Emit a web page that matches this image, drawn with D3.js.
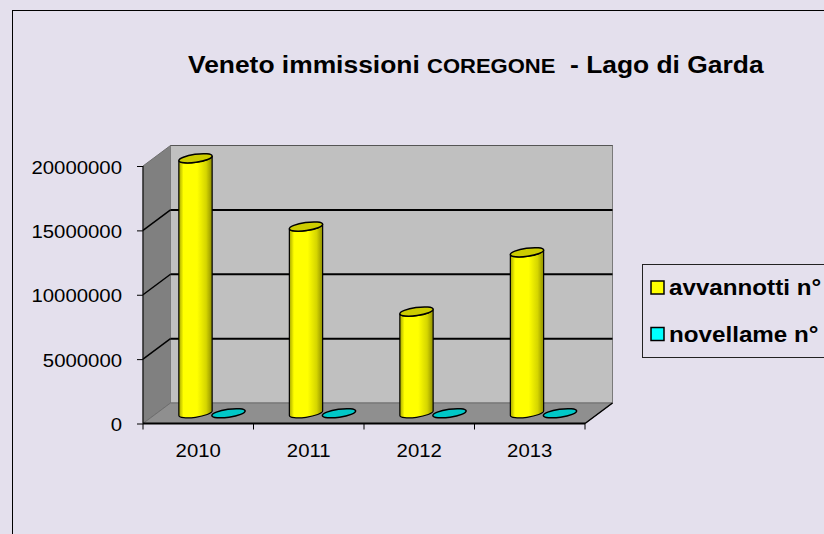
<!DOCTYPE html>
<html>
<head>
<meta charset="utf-8">
<script src="https://cdn.jsdelivr.net/npm/d3@7/dist/d3.min.js"></script>
<style>
  html, body { margin: 0; padding: 0; background: #e4e0ed; }
  svg { display: block; }
  text { font-family: "Liberation Sans", Arial, sans-serif; fill: #000; white-space: pre; }
</style>
</head>
<body>
<svg id="chart" width="824" height="534"></svg>
<script>
// Stocking figures for Lake Garda (Veneto), by year
const years = ["2010", "2011", "2012", "2013"];
const avvannotti = [19800000, 14500000, 7900000, 12500000];
const novellame = [0, 0, 0, 0];
const seriesNames = ["avvannotti n°", "novellame n°"];
const seriesColors = ["#ffff00", "#00ffff"];
const seriesTops = ["#cccc00", "#00c8c8"];
const yTicks = [0, 5000000, 10000000, 15000000, 20000000];
const gridValues = [5000000, 10000000, 15000000];

const svg = d3.select("#chart");
const W = 824, H = 534;
const SX = 1.1; // horizontal stretch of all lettering

// Outer frame
svg.append("rect").attr("x", 0).attr("y", 0).attr("width", W).attr("height", H).attr("fill", "#e4e0ed");
svg.append("rect").attr("x", 12.5).attr("y", 10.5).attr("width", 900).attr("height", 600)
  .attr("fill", "none").attr("stroke", "#000").attr("stroke-width", 1);

// Front plane scales and depth offset of the 3D box
const x0 = 143, x1 = 585;
const x = d3.scaleBand().domain(years).range([x0, x1]).paddingInner(0).paddingOuter(0);
const y = d3.scaleLinear().domain([0, 20000000]).range([423.5, 166]);
const depth = { dx: 27.5, dy: -20.5 };
const mid = { dx: depth.dx / 2, dy: depth.dy / 2 };
const sub = d3.scaleBand().domain([0, 1]).range([-33, 33]);

const y0 = y(0), yTop = y(20000000);

// Side wall
svg.append("path")
  .attr("d", `M${x0},${y0} L${x0 + depth.dx},${y0 + depth.dy} L${x0 + depth.dx},${yTop + depth.dy} L${x0},${yTop} Z`)
  .attr("fill", "#808080").attr("stroke", "#6e6e6e").attr("stroke-width", 1);
// Back wall
svg.append("rect")
  .attr("x", x0 + depth.dx).attr("y", yTop + depth.dy)
  .attr("width", x1 - x0).attr("height", y0 - yTop)
  .attr("fill", "#c0c0c0").attr("stroke", "#7a7a7a").attr("stroke-width", 1);
// Floor
svg.append("path")
  .attr("d", `M${x0},${y0} L${x1},${y0} L${x1 + depth.dx},${y0 + depth.dy} L${x0 + depth.dx},${y0 + depth.dy} Z`)
  .attr("fill", "#8f8f8f").attr("stroke", "#6e6e6e").attr("stroke-width", 1);

// Gridlines on back and side walls
gridValues.forEach(v => {
  const yy = y(v);
  svg.append("line")
    .attr("x1", x0 + depth.dx).attr("x2", x1 + depth.dx)
    .attr("y1", yy + depth.dy).attr("y2", yy + depth.dy)
    .attr("stroke", "#000").attr("stroke-width", 2);
  svg.append("line")
    .attr("x1", x0).attr("y1", yy)
    .attr("x2", x0 + depth.dx).attr("y2", yy + depth.dy)
    .attr("stroke", "#000").attr("stroke-width", 1.5);
});
svg.append("line")
  .attr("x1", x0 + depth.dx).attr("x2", x1 + depth.dx)
  .attr("y1", yTop + depth.dy).attr("y2", yTop + depth.dy)
  .attr("stroke", "#555").attr("stroke-width", 1);

// Floor edges: front category axis and right edge
svg.append("line").attr("x1", x0).attr("x2", x1).attr("y1", y0).attr("y2", y0)
  .attr("stroke", "#000").attr("stroke-width", 2);
svg.append("line").attr("x1", x1).attr("y1", y0).attr("x2", x1 + depth.dx).attr("y2", y0 + depth.dy)
  .attr("stroke", "#000").attr("stroke-width", 1.5);

// Value axis
const yAxis = d3.axisLeft(y).tickValues(yTicks).tickSize(6).tickFormat("");
const gy = svg.append("g").attr("transform", `translate(${x0},0)`).call(yAxis);
gy.selectAll("path, line").attr("stroke", "#000").attr("stroke-width", 1);
gy.select(".domain").attr("d", `M0,${yTop}V${y0}`);

svg.append("g").selectAll("text").data(yTicks).join("text")
  .attr("transform", d => `translate(122,${y(d) + 7.5}) scale(${SX},1)`)
  .attr("text-anchor", "end")
  .style("font-size", "18.5px")
  .text(d => d3.format("d")(d));

// Category ticks and labels
const catTicks = years.map(d => x(d)).concat([x1]);
svg.append("g").selectAll("line").data(catTicks).join("line")
  .attr("x1", d => d).attr("x2", d => d).attr("y1", y0).attr("y2", y0 + 6)
  .attr("stroke", "#000").attr("stroke-width", 1);
svg.append("g").selectAll("text").data(years).join("text")
  .attr("transform", d => `translate(${x(d) + x.bandwidth() / 2},456.5) scale(${SX},1)`)
  .attr("text-anchor", "middle")
  .style("font-size", "18.5px")
  .text(d => d);

// Cylinders
const rx = 16.8, ry = 4, rot = -8;
const phi = rot * Math.PI / 180;
function ellPoint(cx, cy, t) {
  return [cx + rx * Math.cos(t) * Math.cos(phi) - ry * Math.sin(t) * Math.sin(phi),
          cy + rx * Math.cos(t) * Math.sin(phi) + ry * Math.sin(t) * Math.cos(phi)];
}
const tR = Math.atan2(-ry * Math.sin(phi), rx * Math.cos(phi));
const tL = tR + Math.PI;

const defs = svg.append("defs");
seriesColors.forEach((c, i) => {
  const base = d3.color(c);
  const g = defs.append("linearGradient").attr("id", "cyl" + i)
    .attr("x1", "0%").attr("x2", "100%").attr("y1", "0%").attr("y2", "0%");
  g.append("stop").attr("offset", "0%").attr("stop-color", base.darker(1.2));
  g.append("stop").attr("offset", "14%").attr("stop-color", base);
  g.append("stop").attr("offset", "55%").attr("stop-color", base);
  g.append("stop").attr("offset", "82%").attr("stop-color", base.darker(0.5));
  g.append("stop").attr("offset", "100%").attr("stop-color", base.darker(1.6));
});

const seriesData = [avvannotti, novellame];
const gBars = svg.append("g");
years.forEach((yr, j) => {
  seriesData.forEach((vals, i) => {
    const v = vals[j];
    const cx = x(yr) + x.bandwidth() / 2 + mid.dx + sub(i) + sub.bandwidth() / 2;
    const cyBase = y(0) + mid.dy;
    const cyTop = y(v) + mid.dy;
    if (cyBase - cyTop > 0.5) {
      const lb = ellPoint(cx, cyBase, tL), rb = ellPoint(cx, cyBase, tR);
      const lt = ellPoint(cx, cyTop, tL), rt = ellPoint(cx, cyTop, tR);
      const d = `M${lt[0]},${lt[1]} L${lb[0]},${lb[1]} ` +
        `A${rx},${ry} ${rot} 0 0 ${rb[0]},${rb[1]} ` +
        `L${rt[0]},${rt[1]} A${rx},${ry} ${rot} 0 1 ${lt[0]},${lt[1]} Z`;
      gBars.append("path").attr("d", d)
        .attr("fill", `url(#cyl${i})`).attr("stroke", "#000").attr("stroke-width", 1.2);
    }
    gBars.append("ellipse")
      .attr("cx", cx).attr("cy", cyTop).attr("rx", rx).attr("ry", ry)
      .attr("transform", `rotate(${rot},${cx},${cyTop})`)
      .attr("fill", seriesTops[i]).attr("stroke", "#000").attr("stroke-width", 1.5);
  });
});

// Title
const title = svg.append("text")
  .attr("transform", `translate(188,73) scale(${SX},1)`)
  .style("font-weight", "bold");
title.append("tspan").style("font-size", "24px").text("Veneto immissioni ");
title.append("tspan").style("font-size", "20px").text("COREGONE");
title.append("tspan").style("font-size", "24px").text("  - Lago di Garda");

// Legend
svg.append("rect").attr("x", 642.5).attr("y", 264.5).attr("width", 200).attr("height", 93)
  .attr("fill", "none").attr("stroke", "#222").attr("stroke-width", 1);
const leg = svg.append("g").selectAll("g").data(seriesNames).join("g")
  .attr("transform", (d, i) => `translate(0,${i * 46.5})`);
leg.append("rect").attr("x", 651).attr("y", 281).attr("width", 13).attr("height", 13)
  .attr("fill", (d, i) => seriesColors[i]).attr("stroke", "#000").attr("stroke-width", 1.5);
leg.append("text")
  .attr("transform", `translate(669,295) scale(${SX},1)`)
  .style("font-size", "22px").style("font-weight", "bold")
  .text(d => d);
</script>
</body>
</html>
